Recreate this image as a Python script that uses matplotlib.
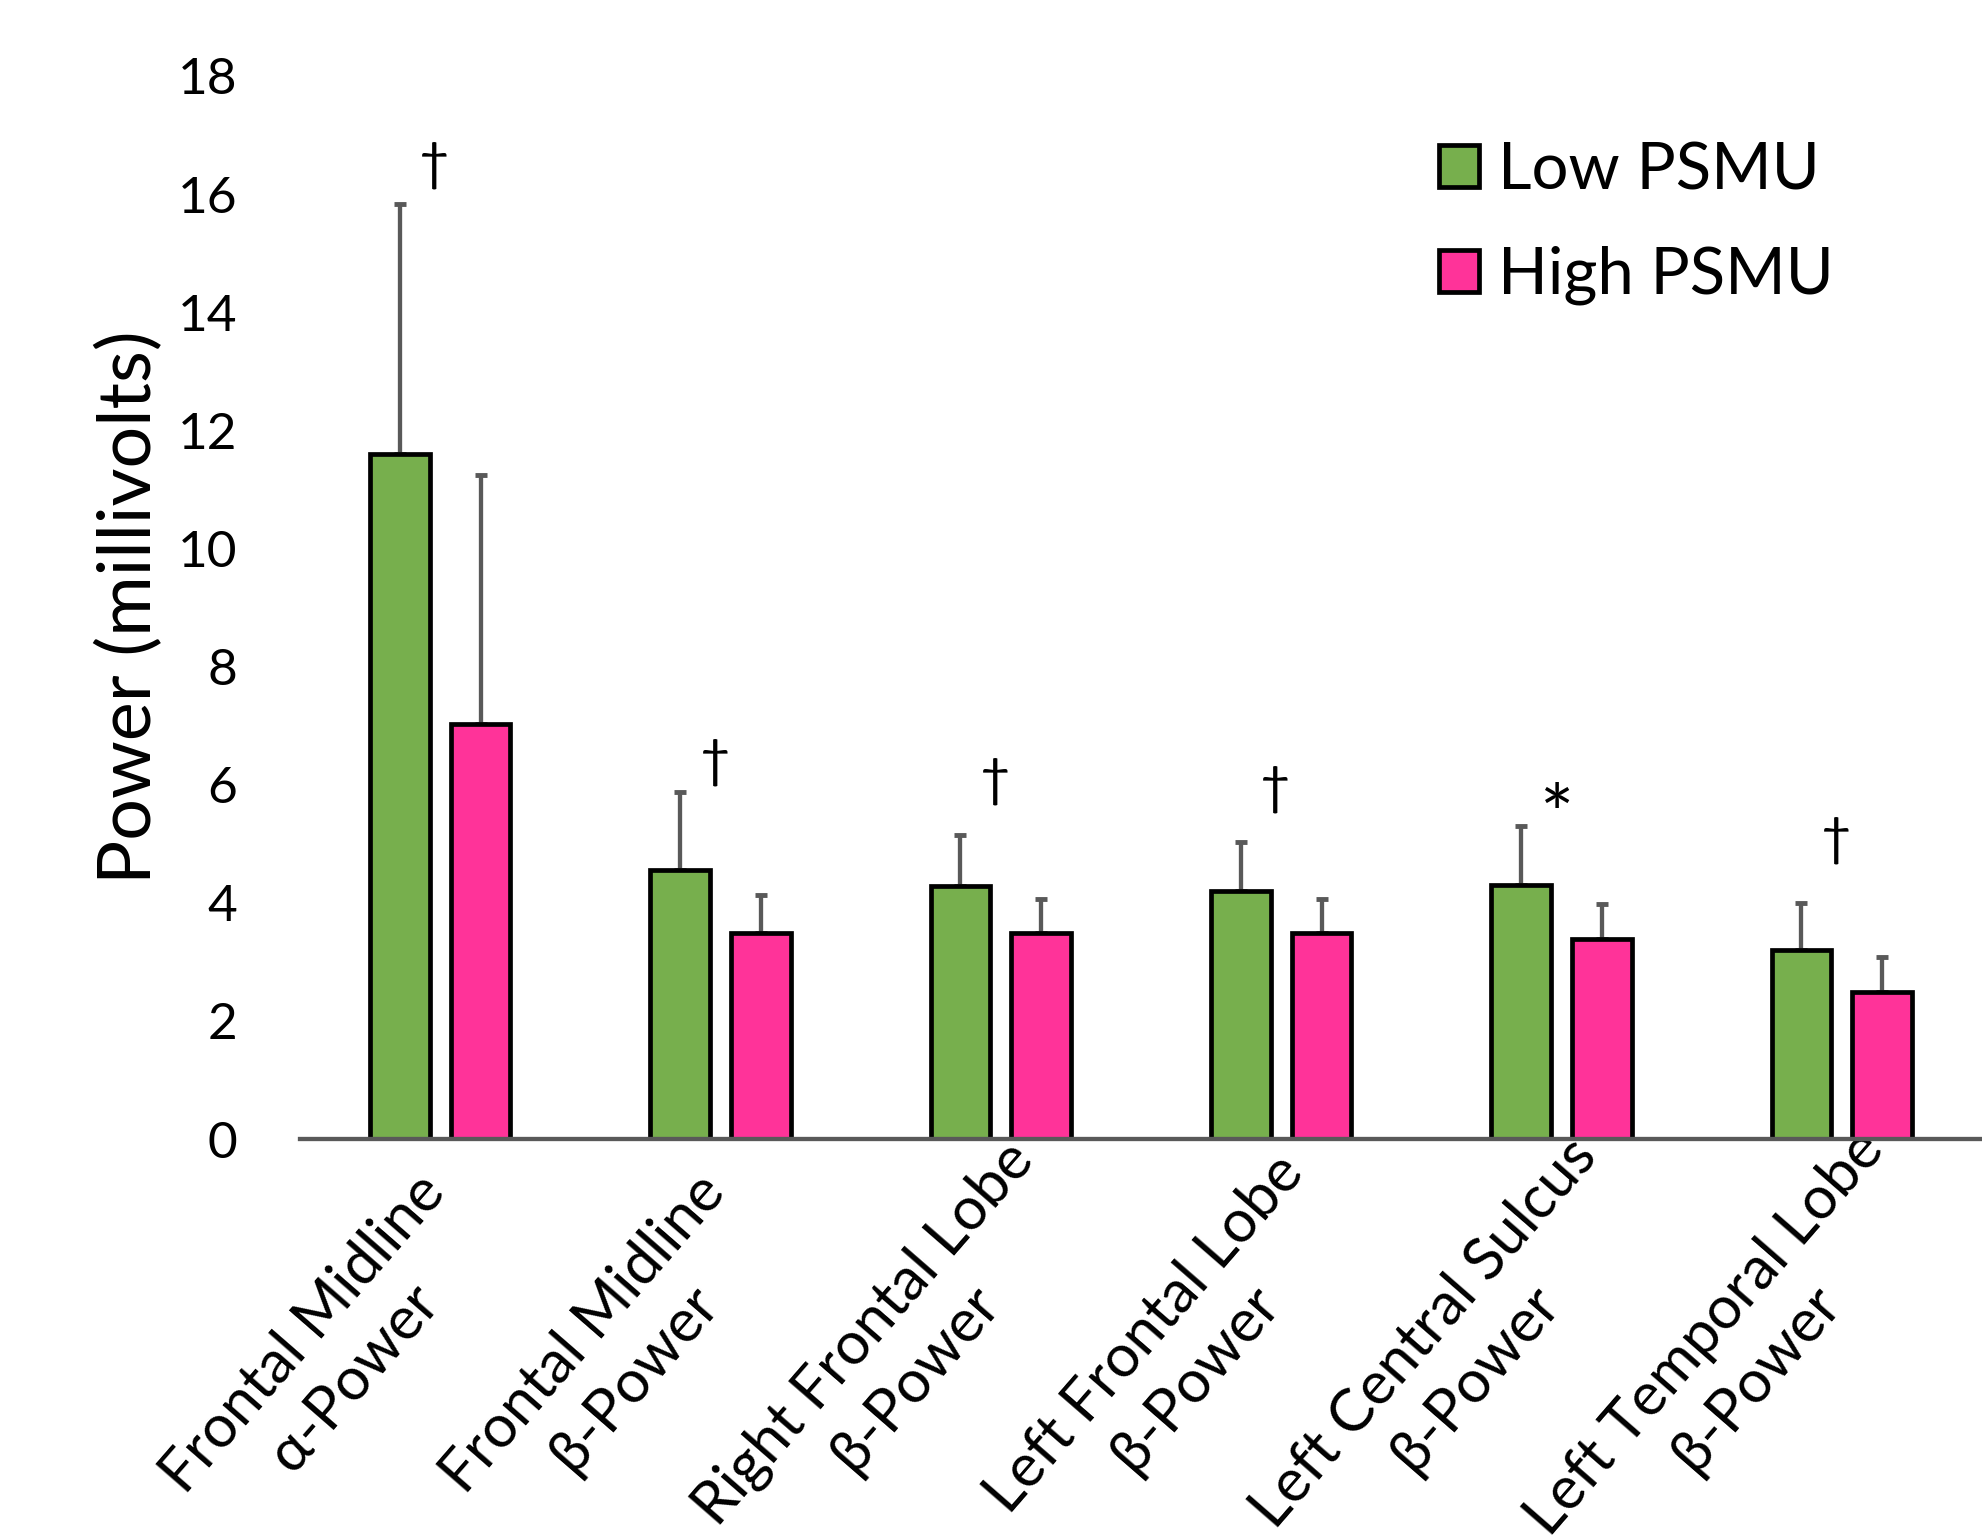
import numpy as np
import matplotlib
matplotlib.use('Agg')
import matplotlib.pyplot as plt
from matplotlib.transforms import ScaledTranslation

plt.rcParams['font.family'] = ['Lato', 'DejaVu Sans']

# data
regions = ['Frontal Midline\nα-Power', 'Frontal Midline\nβ-Power',
           'Right Frontal Lobe\nβ-Power', 'Left Frontal Lobe\nβ-Power',
           'Left Central Sulcus\nβ-Power', 'Left Temporal Lobe\nβ-Power']
low_psmu = [11.60, 4.55, 4.29, 4.20, 4.30, 3.20]
low_err = [4.23, 1.32, 0.85, 0.83, 1.00, 0.80]
high_psmu = [7.02, 3.49, 3.49, 3.49, 3.39, 2.49]
high_err = [4.22, 0.64, 0.57, 0.57, 0.59, 0.60]
sig_marks = ['†', '†', '†', '†', '*', '†']
sig_y = [16.49, 6.38, 6.05, 5.93, 5.40, 5.06]

green = '#77AF4D'
pink = '#FF3399'
errc = '#595959'

fig = plt.figure(figsize=(19.82, 15.36), dpi=100)
ax = fig.add_axes([300/1982, 1 - 1139/1536, 1 - 300/1982, (1139 - 76)/1536])

x = np.arange(len(regions))
w = 0.213
off = 0.144

ax.bar(x - off, low_psmu, w, color=green, edgecolor='black', linewidth=3.4,
       label='Low PSMU', zorder=2)
ax.bar(x + off, high_psmu, w, color=pink, edgecolor='black', linewidth=3.4,
       label='High PSMU', zorder=2)

zeros = np.zeros(len(regions))
ax.errorbar(x - off, low_psmu, yerr=[zeros, low_err], fmt='none', ecolor=errc,
            elinewidth=3.1, capsize=4.6, capthick=3.5, zorder=1.5)
ax.errorbar(x + off, high_psmu, yerr=[zeros, high_err], fmt='none', ecolor=errc,
            elinewidth=3.1, capsize=4.6, capthick=3.5, zorder=1.5)

for i, (m, yy) in enumerate(zip(sig_marks, sig_y)):
    ax.text(i - 0.02, yy, m, ha='center', va='center', color='black',
            fontsize=58 if m == '*' else 38)

ax.set_xlim(-0.5, len(regions) - 0.5)
ax.set_ylim(0, 18)
ax.set_yticks(range(0, 19, 2))
ax.tick_params(axis='y', length=0, pad=45, labelsize=37)
ax.tick_params(axis='x', length=0, pad=0)

ax.set_xticks(x)
ax.set_xticklabels(regions, fontsize=43, rotation=49, ha='center', va='center',
                   rotation_mode='anchor', linespacing=1.3)
shift = ScaledTranslation(-80/72, -156/72, fig.dpi_scale_trans)
for lab in ax.get_xticklabels():
    lab.set_transform(lab.get_transform() + shift)

for s in ['top', 'right', 'left']:
    ax.spines[s].set_visible(False)
ax.spines['bottom'].set_color(errc)
ax.spines['bottom'].set_linewidth(3.1)
ax.spines['bottom'].set_zorder(3)

ax.set_ylabel('Power (millivolts)', fontsize=53)
ax.yaxis.set_label_coords(-0.081, 0.5)

ax.legend(loc='upper left', bbox_to_anchor=(1439/1982, 1 - 141/1536),
          bbox_transform=fig.transFigure, frameon=False, fontsize=47,
          handlelength=0.61, handleheight=0.61, handletextpad=0.3,
          labelspacing=0.7, borderpad=0, borderaxespad=0)

fig.savefig('out.png', dpi=100)
